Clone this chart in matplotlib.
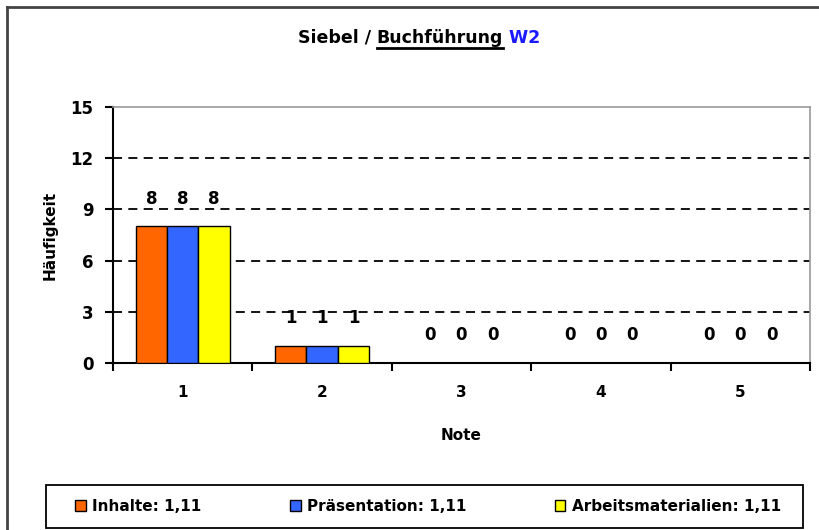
import matplotlib.pyplot as plt
from matplotlib.lines import Line2D
from matplotlib.patches import Rectangle
import numpy as np

# Daten
noten = ['1', '2', '3', '4', '5']
inhalte = [8, 1, 0, 0, 0]
praesentation = [8, 1, 0, 0, 0]
arbeitsmaterialien = [8, 1, 0, 0, 0]
serien_namen = ['Inhalte: 1,11', 'Präsentation: 1,11', 'Arbeitsmaterialien: 1,11']
farben = ['#FF6600', '#3366FF', '#FFFF00']

plt.rcParams['font.family'] = ['DejaVu Sans']
plt.rcParams['font.weight'] = 'bold'

fig = plt.figure(figsize=(8.2, 5.3), dpi=100)
ax = fig.add_axes([113 / 820, 1 - 363 / 530, (810 - 113) / 820, (363 - 107) / 530])

x = np.arange(len(noten))
breite = 0.225
for i, (werte, name, farbe) in enumerate(zip([inhalte, praesentation, arbeitsmaterialien], serien_namen, farben)):
    pos = x + (i - 1) * breite
    ax.bar(pos, werte, breite, color=farbe, edgecolor='black', linewidth=1, label=name, zorder=3)
    for xp, v in zip(pos, werte):
        ax.annotate(str(v), (xp, v), xytext=(0, 20), textcoords='offset points',
                    ha='center', va='center', fontsize=12, fontweight='bold', zorder=4)

ax.set_xlim(-0.5, 4.5)
ax.set_ylim(0, 15)
ax.set_yticks([0, 3, 6, 9, 12, 15])
ax.set_xticks(x)
ax.set_xticklabels(noten)
ax.set_xticks(np.arange(-0.5, 5, 1), minor=True)
ax.tick_params(axis='x', which='major', length=0, pad=16, labelsize=11)
ax.tick_params(axis='x', which='minor', length=6, width=1.5, direction='out')
ax.tick_params(axis='y', length=6, width=1.5, direction='out', pad=8, labelsize=12)

for yv in [3, 6, 9, 12]:
    ax.axhline(yv, color='black', lw=1.3, dashes=(5, 3.5), zorder=1)

for s in ['left', 'bottom']:
    ax.spines[s].set_linewidth(1.5)
    ax.spines[s].set_color('black')
for s in ['top', 'right']:
    ax.spines[s].set_linewidth(1.2)
    ax.spines[s].set_color('#999999')

ax.set_xlabel('Note', fontsize=11, fontweight='bold', labelpad=20)
ax.set_ylabel('Häufigkeit', fontsize=11, fontweight='bold', labelpad=9)

# Legende ohne eigenen Rahmen, Rahmen separat gezeichnet
leg = fig.legend(loc='center', bbox_to_anchor=(428 / 820, 1 - 506.5 / 530), ncol=3,
                 fontsize=11, frameon=False,
                 handlelength=0.7, handleheight=0.7, columnspacing=5.8, borderpad=0.3,
                 handletextpad=0.4)
fig.add_artist(Rectangle((46 / 820, 1 - 528 / 530), (803 - 46) / 820, 43 / 530,
                         transform=fig.transFigure, fill=False, edgecolor='black', lw=1.3))

# Rahmen aussen
fig.add_artist(Line2D([7 / 820, 7 / 820], [0, 1 - 7 / 530], color='#444444', lw=2, transform=fig.transFigure))
fig.add_artist(Line2D([7 / 820, 1], [1 - 7 / 530, 1 - 7 / 530], color='#444444', lw=2, transform=fig.transFigure))

# Titel aus drei Teilen
teile = [('Siebel / ', 'black'), ('Buchführung', 'black'), (' W2', '#1A1AFF')]
texte = [fig.text(0, 1 - 38 / 530, t, color=c, fontsize=12.5, fontweight='bold', va='center')
         for t, c in teile]
fig.canvas.draw()
r = fig.canvas.get_renderer()
breiten = [t.get_window_extent(r).width for t in texte]
start = 419 - sum(breiten) / 2
for t, b in zip(texte, breiten):
    t.set_x(start / 820)
    start += b
fig.canvas.draw()
bb = texte[1].get_window_extent(r)
fig.add_artist(Line2D([bb.x0 / 820, bb.x1 / 820], [(bb.y0 - 1) / 530, (bb.y0 - 1) / 530],
                      color='black', lw=2, transform=fig.transFigure))

fig.savefig('out.png', dpi=100)
